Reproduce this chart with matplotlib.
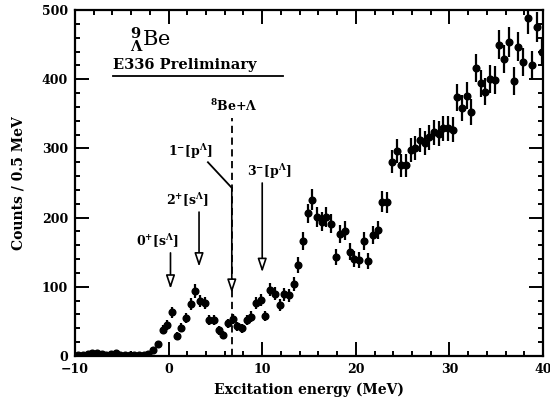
import numpy as np
import matplotlib
matplotlib.use("Agg")
import matplotlib.pyplot as plt
from matplotlib.ticker import MultipleLocator

plt.rcParams['font.family'] = ['DejaVu Serif']
plt.rcParams['font.weight'] = 'bold'
plt.rcParams['axes.labelweight'] = 'bold'
plt.rcParams['mathtext.fontset'] = 'dejavuserif'
plt.rcParams['mathtext.default'] = 'bf'

# counts per 0.5 MeV bin, first bin centred at -9.65 MeV
counts = [2, 2, 3, 4, 4, 3, 2, 3, 5, 1,
          1, 2, 2, 1, 2, 3, 9, 17, 38, 45,
          63, 29, 41, 55, 75, 94, 79, 77, 52, 52,
          37, 30, 47, 53, 43, 40, 52, 57, 77, 81,
          58, 96, 90, 74, 89, 88, 104, 131, 166, 206,
          226, 201, 194, 201, 191, 143, 176, 181, 151, 140,
          139, 166, 137, 175, 182, 223, 222, 281, 296, 276,
          276, 298, 300, 312, 308, 316, 323, 321, 329, 329,
          327, 374, 358, 376, 352, 416, 394, 382, 400, 399,
          450, 429, 454, 397, 447, 425, 488, 420, 476, 440]
bin_start = -9.65
bin_width = 0.5

# state labels: (text, arrow x, arrow top, arrow tip)
states = [(r'0$^{+}$[s$^{\Lambda}$]', 0.2, 149, 97),
          (r'2$^{+}$[s$^{\Lambda}$]', 3.25, 208, 129),
          (r'3$^{-}$[p$^{\Lambda}$]', 10.0, 250, 121)]
threshold = 6.75

counts = np.array(counts, dtype=float)
energy = bin_start + bin_width * np.arange(len(counts))
errors = np.sqrt(counts)

fig = plt.figure(figsize=(5.5, 4.07), dpi=100)
ax = fig.add_axes([0.1364, 0.1253, 0.8509, 0.8501])

ax.errorbar(energy, counts, yerr=errors, fmt='o', color='black',
            ms=4.8, elinewidth=1.6, capsize=0, clip_on=True, zorder=3)

ax.set_xlim(-10, 40)
ax.set_ylim(0, 500)
ax.xaxis.set_major_locator(MultipleLocator(10))
ax.xaxis.set_minor_locator(MultipleLocator(2))
ax.yaxis.set_major_locator(MultipleLocator(100))
ax.yaxis.set_minor_locator(MultipleLocator(20))
ax.tick_params(which='both', direction='in', top=True, right=True, width=1.4)
ax.tick_params(which='major', length=10, labelsize=9, pad=5)
ax.tick_params(which='minor', length=3.5)
for s in ax.spines.values():
    s.set_linewidth(1.6)

ax.set_xlabel('Excitation energy (MeV)', fontsize=10, labelpad=5)
ax.set_ylabel('Counts / 0.5 MeV', fontsize=10, labelpad=12)

# threshold line and labels
ax.plot([threshold, threshold], [0, 344], ls=(0, (4, 2.5)), color='black', lw=1.3)
ax.text(7.0, 361, r'$^{8}$Be+$\Lambda$', ha='center', va='center', fontsize=9)

arrow = dict(arrowstyle='-|>,head_length=0.9,head_width=0.3', fc='white',
             ec='black', lw=1.2, shrinkA=0, shrinkB=0, mutation_scale=9)
label_pos = [(-1.2, 166), (2.0, 225), (10.8, 266)]
for (txt, x, top, tip), (lx, ly) in zip(states, label_pos):
    ax.annotate('', xy=(x, tip), xytext=(x, top), arrowprops=arrow)
    ax.text(lx, ly, txt, ha='center', va='center', fontsize=9)

# 1- state arrow with a kinked leader
ax.plot([4.2, threshold], [280, 243], color='black', lw=1.3)
ax.annotate('', xy=(threshold, 91), xytext=(threshold, 243), arrowprops=arrow)
ax.text(2.35, 295, r'1$^{-}$[p$^{\Lambda}$]', ha='center', va='center', fontsize=9)

ax.text(-4.1, 457, r'$^{9}_{\Lambda}$Be', ha='left', va='center', fontsize=15,
        fontweight='normal')
ax.text(-5.9, 420, 'E336 Preliminary', ha='left', va='center', fontsize=10.5)
ax.plot([-5.9, 12.2], [405, 405], color='black', lw=1.3)

fig.savefig('out.png', dpi=100)
